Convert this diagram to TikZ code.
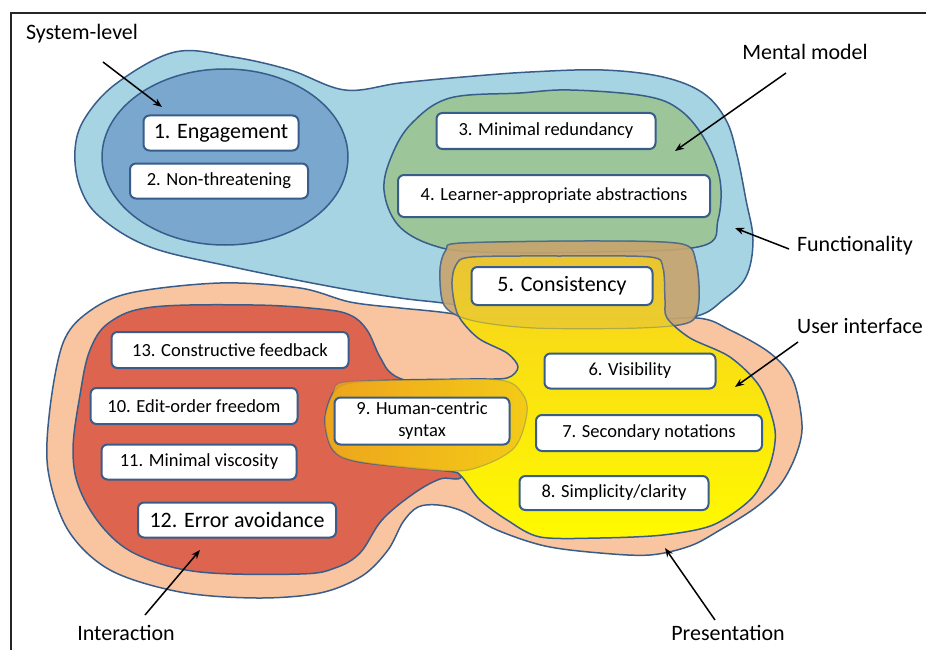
\documentclass[tikz,border=0pt]{standalone}
\usepackage{fontspec}
\setmainfont{Carlito}
\usetikzlibrary{arrows.meta}
\definecolor{olc}{RGB}{56,93,138}
\definecolor{fnblue}{RGB}{166,212,226}
\definecolor{sysblue}{RGB}{122,167,206}
\definecolor{mmgreen}{RGB}{156,198,153}
\definecolor{peach}{RGB}{249,197,160}
\definecolor{ired}{RGB}{221,101,80}
\definecolor{ytop}{RGB}{246,208,30}
\definecolor{ybot}{RGB}{255,250,0}
\definecolor{tanc}{RGB}{200,165,110}
\definecolor{orl}{RGB}{236,158,30}
\definecolor{orr}{RGB}{243,200,25}
\newcommand\myBig{\fontsize{22}{26}\selectfont}
\newcommand\mySmall{\fontsize{18.5}{22}\selectfont}
\begin{document}
\begin{tikzpicture}[x=1pt,y=-1pt,
  region/.style={draw=olc, line width=1.5pt, line join=round},
  bx/.style={draw=olc, line width=2pt, fill=white, rounded corners=6pt, inner sep=0pt, font=\mySmall, text=black},
  bigbx/.style={bx, font=\myBig},
  lbl/.style={font=\myBig, inner sep=0pt, text=black},
  arr/.style={line width=1.5pt, -{Stealth[length=9pt,width=7pt]}}]
\useasboundingbox (0,0) rectangle (926,650);
% frame
\draw[line width=1.6pt, black!85] (11,650) -- (11,13) -- (926,13);
% functionality
\draw[region, fill=fnblue] plot[smooth cycle, tension=0.6] coordinates {
 (75,150) (85,118) (117,83) (175,52) (233,57) (290,70) (345,90) (400,83)
 (463,77) (530,72) (603,70) (663,77) (703,93) (726,120) (737,155) (746,200)
 (753,240) (746,277) (723,300) (697,316) (640,322) (560,318) (490,310)
 (443,303) (400,298) (333,287) (233,267) (150,247) (100,217) (80,187)};
% system-level
\draw[region, fill=sysblue] (225,157) ellipse [x radius=123, y radius=88];
% presentation
\draw[region, fill=peach] plot[smooth cycle, tension=0.55] coordinates {
 (50,408) (63,343) (87,313) (130,293) (220,283) (300,288) (350,302) (400,308)
 (440,312) (520,322) (620,322) (697,318) (730,330) (770,353) (793,380)
 (802,425) (796,455) (780,485) (755,508) (720,530) (690,546) (650,555)
 (600,553) (545,546) (497,530) (462,511) (438,505) (418,507) (403,522) (388,550)
 (362,576) (320,593) (257,598) (180,592) (110,570) (68,530) (48,470)};
% interaction
\draw[region, fill=ired] plot[smooth cycle, tension=0.6] coordinates {
 (80,395) (90,350) (110,322) (153,307) (253,305) (320,309) (350,315) (367,330)
 (380,357) (395,376) (440,395) (458,440) (462,476) (440,479) (413,494)
 (382,520) (360,553) (335,568) (300,574) (200,572) (140,556) (105,530)
 (80,490) (73,450)};
% mental model
\draw[region, fill=mmgreen] plot[smooth cycle, tension=0.6] coordinates {
 (450,98) (520,93) (570,90) (645,96) (680,110) (705,140) (720,180) (718,220)
 (702,246) (600,252) (480,252) (432,245) (398,225) (384,190) (392,155) (412,123)};
% consistency lobe
\draw[region, fill=tanc, fill opacity=0.88, draw opacity=0.8] plot[smooth cycle, tension=0.5] coordinates {
 (462,243) (600,241) (682,244) (696,262) (699,300) (690,322) (640,328)
 (533,328) (470,320) (444,305) (440,270) (446,250)};
% user interface
\draw[region, top color=ytop, bottom color=ybot] plot[smooth cycle, tension=0.5] coordinates {
 (472,257) (560,256) (650,257) (663,268) (665,300) (667,318) (690,338)
 (730,357) (760,387) (775,430) (770,465) (752,498) (713,525) (663,535)
 (600,538) (540,537) (507,520) (480,500) (461,476) (447,471) (360,462)
 (333,450) (325,420) (333,393) (350,383) (400,380) (470,379) (507,378)
 (518,367) (507,353) (478,338) (458,315) (452,285) (456,265)};
% faint overlay of the consistency lobe
\draw[draw=olc, line width=1.2pt, fill=tanc, fill opacity=0.25, draw opacity=0.35] plot[smooth cycle, tension=0.5] coordinates {
 (462,243) (600,241) (682,244) (696,262) (699,300) (690,322) (640,328)
 (533,328) (470,320) (444,305) (440,270) (446,250)};
% human-centric overlap
\draw[draw=olc, line width=1.2pt, draw opacity=0.3, left color=orl, right color=orr, fill opacity=0.9] plot[smooth cycle, tension=0.55] coordinates {
 (345,382) (420,380) (500,380) (522,393) (527,413) (515,447) (482,466)
 (447,471) (360,462) (333,450) (325,420) (333,393)};
% boxes
\node[bigbx, minimum width=155pt, minimum height=35pt] (b1) at (221,133) {1. Engagement};
\node[bx, minimum width=178pt, minimum height=35pt] (b2) at (219,181) {2. Non-threatening};
\node[bx, minimum width=219pt, minimum height=36pt] (b3) at (546,131) {3. Minimal redundancy};
\node[bx, minimum width=312pt, minimum height=42pt] (b4) at (554,196) {4. Learner-appropriate abstractions};
\node[bigbx, minimum width=181pt, minimum height=38pt] (b5) at (562,286) {5. Consistency};
\node[bx, minimum width=171pt, minimum height=35pt] (b6) at (630,371) {6. Visibility};
\node[bx, minimum width=226pt, minimum height=36pt] (b7) at (649,433) {7. Secondary notations};
\node[bx, minimum width=189pt, minimum height=34pt] (b8) at (614,493) {8. Simplicity/clarity};
\node[bx, minimum width=175pt, minimum height=47pt, align=center] (b9) at (422,421) {9. Human-centric\\syntax};
\node[bx, minimum width=207pt, minimum height=36pt] (b10) at (194,406) {10. Edit-order freedom};
\node[bx, minimum width=195pt, minimum height=35pt] (b11) at (199,462) {11. Minimal viscosity};
\node[bigbx, minimum width=198pt, minimum height=35pt] (b12) at (237,520) {12. Error avoidance};
\node[bx, minimum width=237pt, minimum height=36pt] (b13) at (230,350) {13. Constructive feedback};
% labels
\node[lbl] (lsys) at (82,34) {System-level};
\node[lbl] (lmm) at (805,52) {Mental model};
\node[lbl] (lfn) at (855,246) {Functionality};
\node[lbl] (lui) at (860,326) {User interface};
\node[lbl] (lint) at (126,633) {Interaction};
\node[lbl] (lpres) at (728,633) {Presentation};
% arrow ends
\coordinate (sysS) at (103,62);  \coordinate (sysE) at (162,107);
\coordinate (mmS) at (786,73);   \coordinate (mmE) at (675,151);
\coordinate (fnS) at (789,249);  \coordinate (fnE) at (735,228);
\coordinate (uiS) at (798,342);  \coordinate (uiE) at (735,387);
\coordinate (prS) at (715,620);  \coordinate (prE) at (665,548);
\coordinate (inS) at (145,615);  \coordinate (inE) at (200,550);
\draw[arr] (sysS) -- (sysE);
\draw[arr] (mmS) -- (mmE);
\draw[arr] (fnS) -- (fnE);
\draw[arr] (uiS) -- (uiE);
\draw[arr] (prS) -- (prE);
\draw[arr] (inS) -- (inE);
\end{tikzpicture}
\end{document}
